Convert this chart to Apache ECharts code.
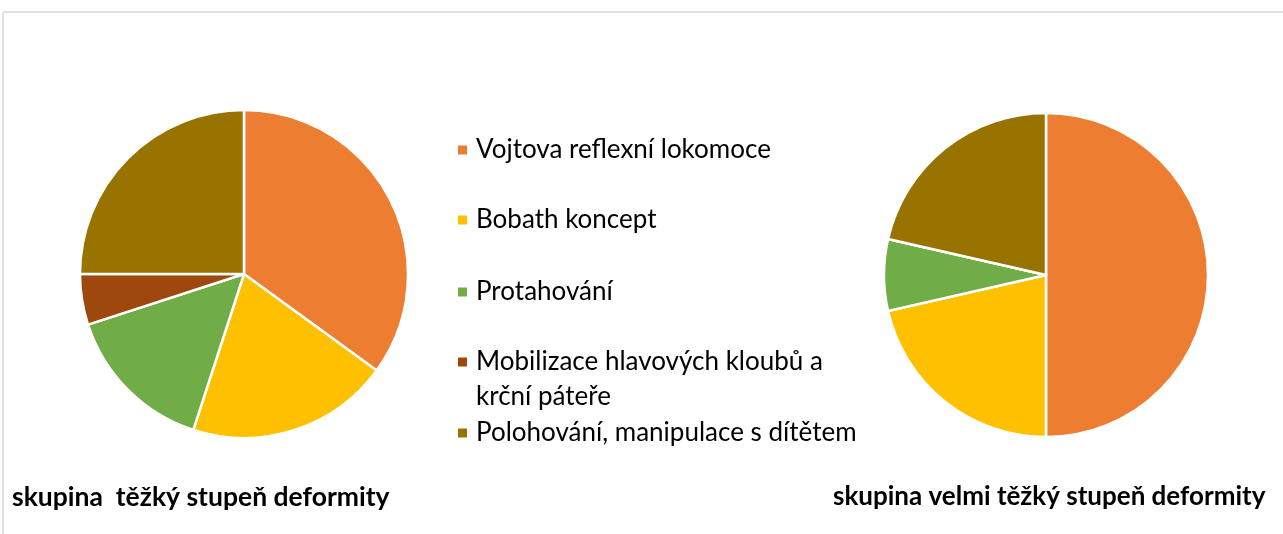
<!DOCTYPE html>
<html>
<head>
<meta charset="utf-8">
<script src="https://cdn.jsdelivr.net/npm/echarts@6/dist/echarts.min.js"></script>
<style>
  html, body { margin: 0; padding: 0; background: #fff; }
  #main { width: 1283px; height: 534px; }
</style>
</head>
<body>
<div id="main"></div>
<script>
// kategorie (legenda)
const categories = [
  'Vojtova reflexní lokomoce',
  'Bobath koncept',
  'Protahování',
  'Mobilizace hlavových kloubů a\nkrční páteře',
  'Polohování, manipulace s dítětem'
];
const colors = ['#ED7D31', '#FFC000', '#70AD47', '#9E480E', '#997300'];

// počty pacientů ve skupinách
const heavyValues = [7, 4, 3, 1, 5];
const veryHeavyValues = [7, 3, 1, 0, 3];

const titles = ['skupina  těžký stupeň deformity', 'skupina velmi těžký stupeň deformity'];

const chart = echarts.init(document.getElementById('main'));

const FONT = 'Lato';
const LINE_H = 35;
// střed ikon legendy (y)
const legendCenters = [150, 220, 292, 362, 433];

function toData(values) {
  return values.map((v, i) => ({ name: categories[i], value: v }));
}

// jedna legenda na položku, aby šlo přesně umístit
const legends = categories.map((name, i) => {
  const multi = name.indexOf('\n') >= 0;
  return {
    orient: 'vertical',
    left: 456,
    top: multi ? legendCenters[i] - LINE_H * 1.5 : legendCenters[i] - LINE_H / 2,
    padding: 0,
    itemWidth: 11,
    itemHeight: 11,
    icon: 'rect',
    selectedMode: false,
    data: [name],
    // prázdný první řádek -> ikona zarovnaná s prvním řádkem textu
    formatter: multi ? ' \n{name}' : '{name}',
    textStyle: {
      fontFamily: FONT,
      fontSize: 26,
      color: '#000',
      lineHeight: LINE_H,
      padding: [0, 0, 0, 3]
    }
  };
});

const pieCommon = {
  type: 'pie',
  startAngle: 90,
  clockwise: true,
  label: { show: false },
  labelLine: { show: false },
  emphasis: { disabled: true },
  itemStyle: { borderColor: '#fff', borderWidth: 2.5 },
  animation: false
};

const option = {
  backgroundColor: '#fff',
  color: colors,
  title: [
    {
      text: titles[0],
      left: 12, top: 484, padding: 0,
      textStyle: { fontFamily: FONT, fontSize: 26.5, fontWeight: 'bold', color: '#000' }
    },
    {
      text: titles[1],
      left: 833, top: 484, padding: 0,
      textStyle: { fontFamily: FONT, fontSize: 26, fontWeight: 'bold', color: '#000' }
    }
  ],
  legend: legends,
  graphic: [
    { type: 'line', shape: { x1: 3, y1: 12, x2: 1283, y2: 12 }, style: { stroke: '#d9d9d9', lineWidth: 1.5 }, silent: true },
    { type: 'line', shape: { x1: 3, y1: 12, x2: 3, y2: 534 }, style: { stroke: '#d9d9d9', lineWidth: 1.5 }, silent: true }
  ],
  series: [
    Object.assign({}, pieCommon, {
      name: titles[0],
      center: [244, 274],
      radius: 164,
      data: toData(heavyValues)
    }),
    Object.assign({}, pieCommon, {
      name: titles[1],
      center: [1046, 275],
      radius: 162,
      data: toData(veryHeavyValues)
    })
  ]
};

chart.setOption(option);
</script>
</body>
</html>
